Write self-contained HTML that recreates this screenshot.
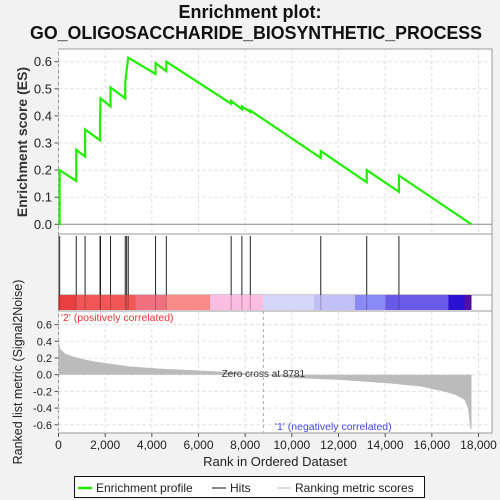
<!DOCTYPE html>
<html><head><meta charset="utf-8"><style>
body{margin:0;background:#f2f2f2;}
svg{display:block;font-family:"Liberation Sans",sans-serif;}
</style></head><body>
<svg id="c" width="500" height="500" viewBox="0 0 500 500">
<rect width="500" height="500" fill="#f2f2f2"/>
<text x="250" y="18" text-anchor="middle" font-size="18" font-weight="bold" fill="#111">Enrichment plot:</text>
<text x="256" y="39" text-anchor="middle" font-size="18" font-weight="bold" fill="#111" textLength="452" lengthAdjust="spacingAndGlyphs">GO_OLIGOSACCHARIDE_BIOSYNTHETIC_PROCESS</text>
<g id="g"></g>
</svg>
<script>
const esRanks=[0,50,50,760,760,1140,1140,1780,1780,1800,2230,2230,2860,2860,2920,2990,4160,4160,4620,4620,7400,7400,7860,7860,8220,8220,11240,11240,13210,13210,14590,14590,17700];
const esVals=[0,0,0.2,0.16,0.275,0.25,0.35,0.31,0.385,0.465,0.435,0.505,0.465,0.52,0.57,0.615,0.555,0.595,0.565,0.6,0.445,0.455,0.425,0.435,0.415,0.42,0.245,0.27,0.155,0.2,0.12,0.18,0];
const hitRanks=[50,760,1140,1780,1800,2230,2860,2920,2990,4160,4620,7400,7860,8220,11240,13210,14590];
const metricRanks=[0,30,100,300,600,1000,1500,2000,3000,4500,6000,7500,8781,10000,12000,14000,15500,16500,17000,17400,17550,17650,17700];
const metricVals=[0.42,0.36,0.3,0.25,0.22,0.19,0.16,0.14,0.1,0.07,0.05,0.03,0,-0.04,-0.06,-0.1,-0.14,-0.2,-0.24,-0.3,-0.4,-0.65,-0.65];
const xTicks=[0,2000,4000,6000,8000,10000,12000,14000,16000,18000];
const esTicks=[0,0.1,0.2,0.3,0.4,0.5,0.6];
const mTicks=[-0.6,-0.4,-0.2,0,0.2,0.4,0.6];
const barStops=[0,760,3300,4620,6500,8781,10950,12700,14000,16700,17400,17700];
const barColors=['#e84040','#f25656','#f07080','#fa8a8a','#fbbde2','#d6d6fa','#c3c0f8','#8a8af5','#6a5ae8','#2a10d0','#5010a8'];
const X=r=>58.5+r*420/18000;
const YE=v=>224.3-v*271;
const YM=v=>374.7-v*83.5;
const g=document.getElementById('g');
const NS='http://www.w3.org/2000/svg';
function el(t,a,p){const e=document.createElementNS(NS,t);for(const k in a)e.setAttribute(k,a[k]);(p||g).appendChild(e);return e;}
function fmt(n){return n.toLocaleString('en-US');}
// panels
let e;
e=el('rect',{x:58.5,y:49,width:433.5,height:262,fill:'#fff',stroke:'#999'});


e=el('rect',{x:58.5,y:311,width:433.5,height:122,fill:'#fff',stroke:'#999'});


el('line',{x1:58.5,y1:234,x2:492,y2:234,stroke:'#999'});
el('line',{x1:58.5,y1:295,x2:492,y2:295,stroke:'#999'});
// gridlines
xTicks.forEach(t=>{
 el('line',{x1:X(t),y1:49,x2:X(t),y2:234,stroke:'#ddd','stroke-dasharray':'3,3'});
 el('line',{x1:X(t),y1:311,x2:X(t),y2:433,stroke:'#ddd','stroke-dasharray':'3,3'});
 el('line',{x1:X(t),y1:433,x2:X(t),y2:437,stroke:'#555'});
 e=el('text',{x:X(t),y:449,'text-anchor':'middle','font-size':12,fill:'#222'});e.textContent=fmt(t);
 
 
});
esTicks.forEach(t=>{
 el('line',{x1:58.5,y1:YE(t),x2:492,y2:YE(t),stroke:t===0?'#888':'#ddd','stroke-dasharray':t===0?'':'3,3'});
 el('line',{x1:54.5,y1:YE(t),x2:58.5,y2:YE(t),stroke:'#555'});
 e=el('text',{x:52,y:YE(t)+4.5,'text-anchor':'end','font-size':13,fill:'#222'});e.textContent=t.toFixed(1);
 
 
});
mTicks.forEach(t=>{
 el('line',{x1:58.5,y1:YM(t),x2:492,y2:YM(t),stroke:'#ddd','stroke-dasharray':'3,3'});
 el('line',{x1:54.5,y1:YM(t),x2:58.5,y2:YM(t),stroke:'#555'});
 e=el('text',{x:52,y:YM(t)+4,'text-anchor':'end','font-size':11,fill:'#222'});e.textContent=t.toFixed(1);
 
 
});
// color bar
barColors.forEach((c,i)=>{
 e=el('rect',{x:X(barStops[i]),y:295,width:X(barStops[i+1])-X(barStops[i]),height:15,fill:c});
 
 
});
// metric area
let d='M'+X(metricRanks[0])+','+YM(0);
metricRanks.forEach((r,i)=>{d+=' L'+X(r)+','+YM(metricVals[i]);});
d+=' L'+X(metricRanks[metricRanks.length-1])+','+YM(0)+'Z';
e=el('path',{d:d,fill:'#bbb',stroke:'none'});


el('line',{x1:X(8781),y1:311,x2:X(8781),y2:433,stroke:'#aaa','stroke-dasharray':'3,3'});
e=el('text',{x:X(8781),y:377,'text-anchor':'middle','font-size':10,fill:'#333'});e.textContent='Zero cross at 8781';


e=el('text',{x:61,y:321,'font-size':10.5,fill:'#e33'});e.textContent="'2' (positively correlated)";


e=el('text',{x:275,y:430,'font-size':10.5,fill:'#44e'});e.textContent="'1' (negatively correlated)";


// hits
hitRanks.forEach(r=>{
 e=el('line',{x1:X(r),y1:236,x2:X(r),y2:295,stroke:'#222','stroke-width':1});
 
 
 el('line',{x1:X(r),y1:295,x2:X(r),y2:310,stroke:'rgba(0,0,0,0.25)'});
});
// ES curve
const pts=esRanks.map((r,i)=>X(r)+','+YE(esVals[i])).join(' ');
e=el('polyline',{points:pts,fill:'none',stroke:'#22ee00','stroke-width':2.2});


// axis titles
e=el('text',{x:0,y:0,'text-anchor':'middle','font-size':14,'font-weight':'bold',fill:'#333',transform:'translate(27,142) rotate(-90)'});e.textContent='Enrichment score (ES)';


e=el('text',{x:0,y:0,'text-anchor':'middle','font-size':12.5,fill:'#222',transform:'translate(22,372) rotate(-90)'});e.textContent='Ranked list metric (Signal2Noise)';


e=el('text',{x:275,y:466,'text-anchor':'middle','font-size':13,fill:'#222'});e.textContent='Rank in Ordered Dataset';


// legend
e=el('rect',{x:74.5,y:476.5,width:350,height:21,fill:'#fff',stroke:'#111'});


el('line',{x1:78,y1:488,x2:92,y2:488,stroke:'#22ee00','stroke-width':2.5});
e=el('text',{x:96,y:492,'font-size':12,fill:'#222'});e.textContent='Enrichment profile';


el('line',{x1:212,y1:488,x2:226,y2:488,stroke:'#111'});
e=el('text',{x:230,y:492,'font-size':12,fill:'#222'});e.textContent='Hits';


el('line',{x1:277,y1:488,x2:291,y2:488,stroke:'#bbb'});
e=el('text',{x:295,y:492,'font-size':12,fill:'#222'});e.textContent='Ranking metric scores';


</script>
</body></html>
